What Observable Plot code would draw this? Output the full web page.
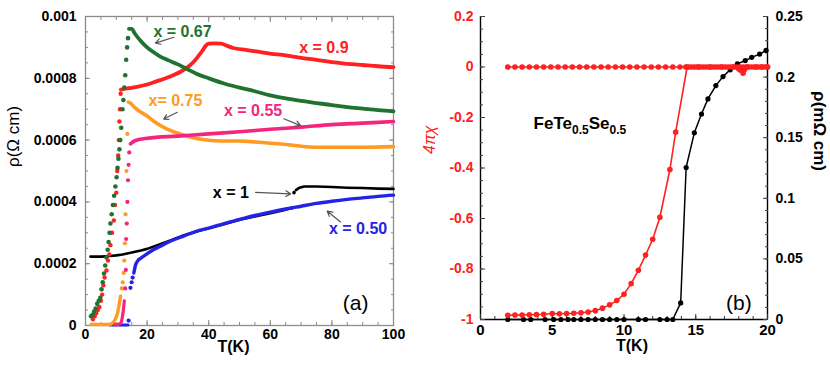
<!DOCTYPE html>
<html><head><meta charset="utf-8">
<script src="https://cdn.jsdelivr.net/npm/d3@7"></script>
<script src="https://cdn.jsdelivr.net/npm/@observablehq/plot@0.6"></script>
<style>
body{margin:0;background:#fff;}
#wrap{position:relative;width:830px;height:368px;overflow:hidden;background:#fff;}
#a{position:absolute;left:0;top:0;}
#b{position:absolute;left:420px;top:0;}
</style></head><body><div id="wrap"><div id="a"></div><div id="b"></div></div>
<script>
// ---------- Panel (a): rho(T) for FeTe(1-x)Se(x)... [T (K), rho (Ohm cm)] ----------
const T_TICKS_A = [0, 20, 40, 60, 80, 100];
const RHO_TICKS_A = [0, 0.0002, 0.0004, 0.0006, 0.0008, 0.001];

const green067Dots = [[1.8,0.00003],[2.3,0.000035],[2.8,0.000045],[3.3,0.000055],[3.8,0.00007],[4.3,0.00008],[4.8,0.00009],[5.2,0.000117],[5.6,0.00014],[6.0,0.000168],[6.4,0.000194],[6.8,0.00022],[7.2,0.000245],[7.5,0.00027],[7.8,0.0003],[8.1,0.00033],[8.5,0.00036],[8.9,0.00039],[9.3,0.00042],[9.7,0.00045],[10.1,0.00048],[10.4,0.00051],[10.7,0.00054],[11.0,0.00057],[11.3,0.0006],[11.6,0.00064],[12.0,0.0007],[12.3,0.00073],[12.6,0.00077],[12.9,0.00081],[13.2,0.00086],[13.5,0.0009],[13.8,0.00093]];
const green067Line = [[14.1,0.00096],[15,0.00096],[16,0.000945],[18,0.00092],[20,0.0009],[22,0.000885],[24,0.000872],[27,0.000858],[30,0.000845],[33,0.00083],[36,0.000815],[40,0.0008],[45,0.000783],[50,0.00077],[55,0.000758],[60,0.000745],[65,0.000735],[70,0.000727],[75,0.00072],[80,0.000713],[85,0.000707],[90,0.000702],[95,0.000697],[100,0.000693]];

const red09Dots = [[2.4,0.00002],[3.0,0.00003],[3.5,0.00004],[4.0,0.00005],[4.5,0.00006],[5.0,0.00008],[5.4,0.0001],[5.8,0.00013],[6.2,0.000155],[6.8,0.000178],[7.3,0.00021],[7.7,0.00023],[8.1,0.00026],[8.6,0.0003],[9.2,0.00034],[9.6,0.00039],[10.0,0.00043],[10.3,0.0005],[10.6,0.00055],[10.8,0.0006],[11.0,0.00066],[11.2,0.0007],[11.4,0.00075]];
const red09Line = [[11.5,0.000763],[14,0.000768],[17,0.000773],[20,0.00078],[23,0.00079],[26,0.0008],[29,0.000812],[31,0.000822],[33,0.000835],[35,0.000852],[36.5,0.00087],[38,0.00089],[39,0.000905],[40,0.000912],[42,0.000913],[44,0.000912],[46,0.000905],[48,0.000898],[52,0.000892],[56,0.000886],[60,0.00088],[65,0.000874],[70,0.000866],[75,0.00086],[80,0.000852],[85,0.000847],[90,0.000843],[95,0.000839],[100,0.000836]];

const orange075Low = [[1.8,0.000003],[8,0.000003],[8.5,0.000006],[9,0.00001],[9.5,0.000017],[10,0.000028],[10.4,0.00004],[10.8,0.00006],[11.1,0.000078],[11.4,0.000095]];
const orange075Dots = [[11.8,0.00012],[12.1,0.00014],[12.4,0.00017],[12.6,0.00021],[12.8,0.000266],[13.0,0.00036],[13.3,0.0005],[13.6,0.00062]];
const orange075Line = [[13.9,0.000723],[14.5,0.00072],[16,0.000705],[18,0.00069],[20,0.000678],[23,0.000655],[26,0.000638],[30,0.000622],[34,0.00061],[38,0.000602],[42,0.000598],[46,0.000597],[50,0.000597],[55,0.000594],[60,0.00059],[65,0.000586],[70,0.00058],[75,0.000577],[80,0.000577],[90,0.000577],[100,0.000579]];

const pink055Low = [[9.5,0.000003],[11,0.000005],[11.6,0.00001],[12,0.00003],[12.3,0.00005],[12.6,0.00008]];
const pink055Dots = [[12.9,0.00012],[13.1,0.00018],[13.2,0.00028],[13.4,0.00033],[13.6,0.0004],[13.8,0.00047],[14.0,0.00052],[14.2,0.00056]];
const pink055Line = [[14.6,0.000588],[16,0.000598],[20,0.000606],[30,0.000613],[40,0.00062],[50,0.000627],[60,0.000635],[70,0.000642],[80,0.00065],[90,0.000655],[100,0.00066]];

const blue050Low = [[8,0.000002],[13.8,0.000002]];
const blue050Dots = [[14.0,0.000016],[14.6,0.000122],[15.0,0.00014],[15.3,0.000155]];
const blue050Line = [[15.7,0.00017],[16.2,0.000194],[17,0.00021],[18,0.000218],[20,0.000232],[22,0.000245],[25,0.00026],[28,0.000275],[32,0.00029],[36,0.000305],[40,0.000315],[45,0.00033],[50,0.000343],[55,0.000356],[60,0.000367],[65,0.000377],[70,0.000386],[75,0.000395],[80,0.000402],[85,0.000408],[90,0.000413],[95,0.000418],[100,0.000422]];

const black1LineLow = [[1.6,0.000223],[5,0.000223],[8,0.000225],[10,0.000227],[12,0.00023],[15,0.000236],[18,0.000243],[20,0.000248],[24,0.000262],[28,0.000277],[32,0.000292],[36,0.000304],[40,0.000315],[45,0.000328],[50,0.000342],[55,0.000353],[60,0.000363],[64,0.000372],[67,0.00038]];
const black1Dots = [[67.2,0.000381],[67.7,0.00043]];
const black1LineHigh = [[68.3,0.000438],[69.5,0.000446],[71,0.00045],[75,0.00045],[80,0.000448],[85,0.000446],[90,0.000445],[95,0.000443],[100,0.000442]];

const labelsA = [
  {label: "x = 0.67", T: 31.5, rho: 0.000951, series: "g"},
  {label: "x = 0.9",  T: 77.4, rho: 0.0009,   series: "r"},
  {label: "x= 0.75",  T: 29.2, rho: 0.000728, series: "o"},
  {label: "x = 0.55", T: 54.4, rho: 0.000693, series: "p"},
  {label: "x = 1",    T: 47.2, rho: 0.000428, series: "k"},
  {label: "x = 0.50", T: 88.5, rho: 0.000313, series: "b"}
];
const arrowsA = [
  {T1: 28.7, r1: 0.000933, T2: 22.7, r2: 0.000914},
  {T1: 29.8, r1: 0.00069,  T2: 25.4, r2: 0.000668},
  {T1: 64.4, r1: 0.000669, T2: 69.8, r2: 0.647e-3},
  {T1: 55.2, r1: 0.000431, T2: 66.6, r2: 0.000426},
  {T1: 82.8, r1: 0.000335, T2: 78.5, r2: 0.00037}
];

// ---------- Panel (b): FeTe0.5Se0.5, 4πχ (left) and rho in mΩ cm (right) ----------
const T_TICKS_B = [0, 5, 10, 15, 20];
const CHI_TICKS_B = [-1, -0.8, -0.6, -0.4, -0.2, 0, 0.2];
const RHO_TICKS_B = [0, 0.05, 0.1, 0.15, 0.2, 0.25];

const chiFC_T = [1.9,2.4,2.9,3.4,3.9,4.4,4.9,5.4,5.9,6.4,6.9,7.4,7.9,8.4,8.9,9.4,9.9,10.4,10.9,11.4,11.9,12.4,12.9,13.4,13.9,14.3,14.5,14.7,14.9,15.1,15.3,15.5,15.7,15.9,16.1,16.3,16.5,16.7,16.9,17.1,17.3,17.5,17.7,17.9,18.1,18.3,18.5,18.7,18.9,19.1,19.3,19.5,19.7,19.9,20.0];
const chiFC_V = chiFC_T.map(() => 0);
const chiZFC = [[1.9,-0.983],[2.4,-0.982],[2.9,-0.982],[3.4,-0.981],[3.9,-0.98],[4.4,-0.979],[5.0,-0.976],[5.5,-0.977],[6.0,-0.976],[6.5,-0.975],[7.0,-0.973],[7.5,-0.97],[8.0,-0.965],[8.5,-0.955],[9.0,-0.942],[9.5,-0.925],[10.0,-0.9],[10.5,-0.858],[11.0,-0.805],[11.5,-0.745],[12.0,-0.682],[12.5,-0.595],[13.2,-0.406],[13.6,-0.258],[14.4,0],[15.2,0],[16.0,0],[16.8,0],[17.6,0],[18.0,-0.008],[18.3,-0.025],[18.4,-0.01],[18.1,-0.012],[18.6,0],[19.2,0],[19.6,0],[20.0,0]];
const rhoB = [[1.9,0],[3,0],[3.5,0],[4.5,0],[5.1,0],[5.6,0],[6.1,0],[6.5,0],[7,0],[7.5,0],[8,0],[8.5,0],[9,0],[9.5,0],[10,0],[11,0],[11.5,0],[12.5,0],[13,0],[13.4,0],[13.95,0.0137],[14.33,0.1254],[14.9,0.154],[15.4,0.1695],[15.85,0.182],[16.4,0.193],[16.9,0.2004],[17.4,0.206],[17.9,0.211],[18.45,0.2136],[18.9,0.2163],[19.45,0.219],[19.9,0.222]];

// ---------- styles ----------
const FONT = "'Liberation Sans', Arial, Helvetica, sans-serif";
const C = {g: "#1f7230", r: "#ff2020", o: "#ff9a22", p: "#f5257e", b: "#2323e6", k: "#000000"};
const GRAY = "#8c8c8c";
const X = d => d[0], Y = d => d[1];

const fmtA = d => d === 0 ? "0" : String(+d.toFixed(4));

const A = Plot.plot({
  width: 420, height: 368,
  marginLeft: 85, marginRight: 27, marginTop: 16, marginBottom: 43,
  x: {domain: [T_TICKS_A[0], T_TICKS_A[T_TICKS_A.length - 1]]},
  y: {domain: [RHO_TICKS_A[0], RHO_TICKS_A[RHO_TICKS_A.length - 1]]},
  style: {fontFamily: FONT, fontSize: "14px", fontWeight: "bold", background: "white", overflow: "visible", color: "black"},
  marks: [
    Plot.frame({stroke: GRAY, strokeWidth: 1.3}),
    Plot.axisX(d3.range(0, 101, 5), {anchor: "bottom", tickSize: -3, tickFormat: () => "", stroke: GRAY, label: null}),
    Plot.axisX(d3.range(0, 101, 5), {anchor: "top", tickSize: -3, tickFormat: () => "", stroke: GRAY, label: null}),
    Plot.axisX(T_TICKS_A, {anchor: "bottom", tickSize: -5, tickFormat: () => "", stroke: GRAY, label: null}),
    Plot.axisX(T_TICKS_A, {anchor: "top", tickSize: -5, tickFormat: () => "", stroke: GRAY, label: null}),
    Plot.axisY(d3.range(0, 21).map(i => i * 0.00005), {anchor: "left", tickSize: -3, tickFormat: () => "", stroke: GRAY, label: null}),
    Plot.axisY(d3.range(0, 21).map(i => i * 0.00005), {anchor: "right", tickSize: -3, tickFormat: () => "", stroke: GRAY, label: null}),
    Plot.axisY(RHO_TICKS_A, {anchor: "left", tickSize: -5, tickFormat: () => "", stroke: GRAY, label: null}),
    Plot.axisY(RHO_TICKS_A, {anchor: "right", tickSize: -5, tickFormat: () => "", stroke: GRAY, label: null}),
    Plot.axisX(T_TICKS_A, {anchor: "bottom", tickSize: 0, tickPadding: 4, label: null, fontSize: 14}),
    Plot.axisY(RHO_TICKS_A, {anchor: "left", tickSize: 0, tickPadding: 9, tickFormat: fmtA, label: null, fontSize: 14}),
    // data
    Plot.line(black1LineLow, {x: X, y: Y, stroke: C.k, strokeWidth: 2.6}),
    Plot.line(black1LineHigh, {x: X, y: Y, stroke: C.k, strokeWidth: 2.6}),
    Plot.dot(black1Dots, {x: X, y: Y, fill: C.k, r: 1.8}),
    Plot.line(blue050Low, {x: X, y: Y, stroke: C.b, strokeWidth: 3}),
    Plot.dot(blue050Dots, {x: X, y: Y, fill: C.b, r: 2.1}),
    Plot.line(blue050Line, {x: X, y: Y, stroke: C.b, strokeWidth: 3.4, curve: "monotone-x"}),
    Plot.line(orange075Low, {x: X, y: Y, stroke: C.o, strokeWidth: 3.4, curve: "monotone-x"}),
    Plot.dot(orange075Dots, {x: X, y: Y, fill: C.o, r: 2.1}),
    Plot.line(orange075Line, {x: X, y: Y, stroke: C.o, strokeWidth: 3.6, curve: "monotone-x"}),
    Plot.line(pink055Low, {x: X, y: Y, stroke: C.p, strokeWidth: 3.2, curve: "monotone-x"}),
    Plot.dot(pink055Dots, {x: X, y: Y, fill: C.p, r: 2.1}),
    Plot.line(pink055Line, {x: X, y: Y, stroke: C.p, strokeWidth: 3.6, curve: "monotone-x"}),
    Plot.dot(red09Dots, {x: X, y: Y, fill: C.r, r: 2.2}),
    Plot.line(red09Line, {x: X, y: Y, stroke: C.r, strokeWidth: 3.8, curve: "monotone-x"}),
    Plot.dot(green067Dots, {x: X, y: Y, fill: C.g, r: 2.3}),
    Plot.line(green067Line, {x: X, y: Y, stroke: C.g, strokeWidth: 3.8, curve: "monotone-x"}),
    // annotations
    Plot.arrow(arrowsA, {x1: "T1", y1: "r1", x2: "T2", y2: "r2", stroke: "#555", strokeWidth: 1.2, headLength: 7}),
    Plot.text(labelsA, {x: "T", y: "rho", text: "label", fill: d => C[d.series], fontSize: 16, fontWeight: "bold"}),
    Plot.text(["(a)"], {frameAnchor: "bottom-right", dx: -25, dy: -16, fontSize: 21, fontWeight: "normal", fill: "black"}),
    Plot.text(["T(K)"], {frameAnchor: "bottom", dx: -6, dy: 26, fontSize: 16, fontWeight: "bold", fill: "black"}),
    Plot.text(["ρ(Ω cm)"], {frameAnchor: "left", dx: -72, dy: -4, rotate: -90, fontSize: 17, fontWeight: "normal", fill: "black"})
  ]
});
document.getElementById("a").appendChild(A);

// panel b: right-axis (rho) values are mapped onto the left (chi) scale
const chiLo = CHI_TICKS_B[0], chiHi = CHI_TICKS_B[CHI_TICKS_B.length - 1];
const rhoHi = RHO_TICKS_B[RHO_TICKS_B.length - 1];
const toChi = r => chiLo + r / rhoHi * (chiHi - chiLo);
const fromChi = v => (v - chiLo) / (chiHi - chiLo) * rhoHi;
const fmtB = d => { const s = String(+d.toFixed(3)); return s === "-0" ? "0" : s; };
const chiFC = chiFC_T.map((t, i) => [t, chiFC_V[i]]);
const rhoBmapped = rhoB.map(([t, r]) => [t, toChi(r)]);
const RED = "#ff2020";

const B = Plot.plot({
  width: 410, height: 368,
  marginLeft: 60, marginRight: 63, marginTop: 16, marginBottom: 49,
  x: {domain: [T_TICKS_B[0], T_TICKS_B[T_TICKS_B.length - 1]]},
  y: {domain: [chiLo, chiHi]},
  style: {fontFamily: FONT, fontSize: "14px", fontWeight: "bold", background: "white", overflow: "visible", color: "black"},
  marks: [
    Plot.ruleX([T_TICKS_B[0]], {stroke: "black", strokeWidth: 1.4}),
    Plot.ruleX([T_TICKS_B[T_TICKS_B.length - 1]], {stroke: "black", strokeWidth: 1.4}),
    Plot.ruleY([chiLo], {stroke: "black", strokeWidth: 1.4}),
    Plot.axisX(d3.range(0, 21), {anchor: "bottom", tickSize: -3, tickFormat: () => "", stroke: "#333", label: null}),
    Plot.axisX(T_TICKS_B, {anchor: "bottom", tickSize: -5, tickFormat: () => "", stroke: "#333", label: null}),
    Plot.axisY(d3.range(0, 25).map(i => chiLo + i * 0.05), {anchor: "left", tickSize: -3, tickFormat: () => "", stroke: "#444", label: null}),
    Plot.axisY(CHI_TICKS_B, {anchor: "left", tickSize: -5, tickFormat: () => "", stroke: "#444", label: null}),
    Plot.axisY(d3.range(0, 26).map(i => toChi(i * 0.01)), {anchor: "right", tickSize: -3, tickFormat: () => "", stroke: "#444", label: null}),
    Plot.axisY(RHO_TICKS_B.map(toChi), {anchor: "right", tickSize: -5, tickFormat: () => "", stroke: "#444", label: null}),
    Plot.axisX(T_TICKS_B, {anchor: "bottom", tickSize: 0, tickPadding: 5, label: null, fontSize: 15}),
    Plot.axisY(CHI_TICKS_B, {anchor: "left", tickSize: 0, tickPadding: 7, tickFormat: fmtB, label: null, fill: RED, fontSize: 14}),
    Plot.axisY(RHO_TICKS_B.map(toChi), {anchor: "right", tickSize: 0, tickPadding: 8, tickFormat: d => fmtB(fromChi(d)), label: null, fontSize: 14}),
    // data
    Plot.line(rhoBmapped, {x: X, y: Y, stroke: "black", strokeWidth: 1.5}),
    Plot.dot(rhoBmapped, {x: X, y: Y, fill: "black", r: 2.6}),
    Plot.line(chiZFC, {x: X, y: Y, stroke: RED, strokeWidth: 1.6}),
    Plot.dot(chiZFC, {x: X, y: Y, fill: RED, r: 2.8}),
    Plot.line(chiFC, {x: X, y: Y, stroke: RED, strokeWidth: 1.6}),
    Plot.dot(chiFC, {x: X, y: Y, fill: RED, r: 2.8}),
    // annotations
    Plot.text(["FeTe0.5Se0.5"], {x: [3.7], y: [-0.222], textAnchor: "start", fontSize: 17, fontWeight: "bold", fill: "black"}),
    Plot.text(["(b)"], {x: [18.0], y: [-0.936], fontSize: 21, fontWeight: "normal", fill: "black"}),
    Plot.text(["T(K)"], {frameAnchor: "bottom", dx: 8, dy: 31, fontSize: 16, fontWeight: "bold", fill: "black"}),
    Plot.text(["4πχ"], {frameAnchor: "left", dx: -51, dy: -14, rotate: -90, fontSize: 16, fontWeight: "normal", fontStyle: "italic", fill: RED}),
    Plot.text(["ρ(mΩ cm)"], {frameAnchor: "right", dx: 52, dy: 3, rotate: 90, fontSize: 17, fontWeight: "bold", fill: "black"})
  ]
});
document.getElementById("b").appendChild(B);

// subscripts for the compound name
d3.select(B).selectAll("text").filter(function () { return this.textContent === "FeTe0.5Se0.5"; })
  .each(function () {
    const t = d3.select(this);
    t.text(null);
    t.append("tspan").text("FeTe");
    t.append("tspan").attr("dy", 5).attr("font-size", 12).text("0.5");
    t.append("tspan").attr("dy", -5).text("Se");
    t.append("tspan").attr("dy", 5).attr("font-size", 12).text("0.5");
  });
</script>
</body></html>
